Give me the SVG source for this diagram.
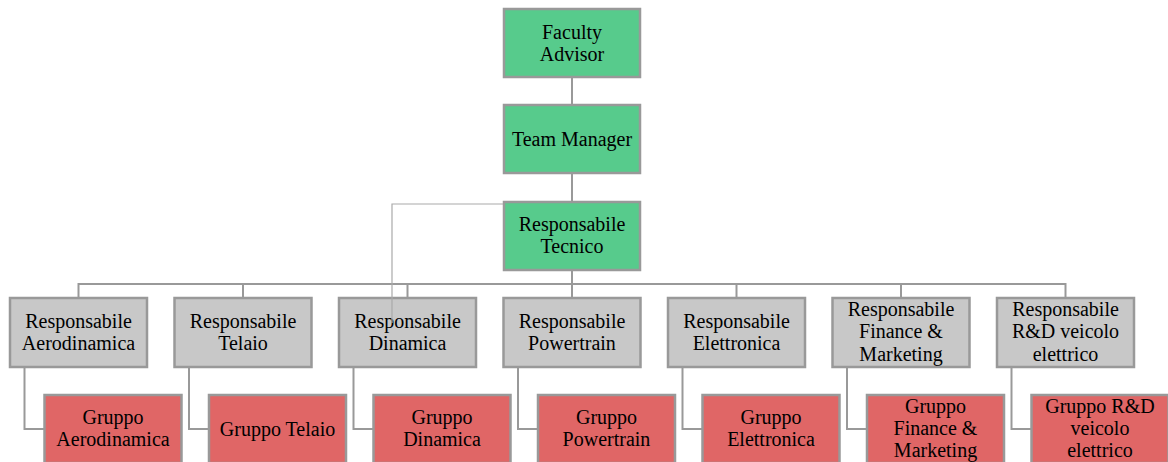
<svg xmlns="http://www.w3.org/2000/svg" width="1168" height="462" viewBox="0 0 1168 462">
<style>
.box{stroke:#999999;stroke-width:2.5}
.g{fill:#57CB8C}
.s{fill:#C8C8C8}
.r{fill:#E06666}
.lbl{font-family:"Liberation Serif","Times New Roman",serif;font-size:20px;fill:#000;text-anchor:middle}
.c{fill:none;stroke:#999999;stroke-width:2}
.t{fill:none;stroke:#AAAAAA;stroke-width:1.2}
</style>
<rect width="1168" height="462" fill="#FFFFFF"/>
<g id="nodes">
<g id="faculty-advisor"><rect class="box g" x="504" y="9" width="136" height="68"/><text class="lbl" x="572" y="38.9">Faculty<tspan x="572" dy="22.2">Advisor</tspan></text></g>
<g id="team-manager"><rect class="box g" x="504" y="105" width="136" height="68"/><text class="lbl" x="572" y="146">Team Manager</text></g>
<g id="resp-tecnico"><rect class="box g" x="504" y="202" width="136" height="68"/><text class="lbl" x="572" y="230.9">Responsabile<tspan x="572" dy="22.2">Tecnico</tspan></text></g>

<g id="resp-aero"><rect class="box s" x="10" y="298" width="137" height="69"/><text class="lbl" x="78.5" y="327.7">Responsabile<tspan x="78.5" dy="22.2">Aerodinamica</tspan></text></g>
<g id="resp-telaio"><rect class="box s" x="174.5" y="298" width="137" height="69"/><text class="lbl" x="243" y="327.7">Responsabile<tspan x="243" dy="22.2">Telaio</tspan></text></g>
<g id="resp-dinamica"><rect class="box s" x="339" y="298" width="137" height="69"/><text class="lbl" x="407.5" y="327.7">Responsabile<tspan x="407.5" dy="22.2">Dinamica</tspan></text></g>
<g id="resp-powertrain"><rect class="box s" x="503.5" y="298" width="137" height="69"/><text class="lbl" x="572" y="327.7">Responsabile<tspan x="572" dy="22.2">Powertrain</tspan></text></g>
<g id="resp-elettronica"><rect class="box s" x="668" y="298" width="137" height="69"/><text class="lbl" x="736.5" y="327.7">Responsabile<tspan x="736.5" dy="22.2">Elettronica</tspan></text></g>
<g id="resp-finance"><rect class="box s" x="832.5" y="298" width="137" height="69"/><text class="lbl" x="901" y="316.1">Responsabile<tspan x="901" dy="22.2">Finance &amp;</tspan><tspan x="901" dy="22.2">Marketing</tspan></text></g>
<g id="resp-rd"><rect class="box s" x="997" y="298" width="137" height="69"/><text class="lbl" x="1065.5" y="316.1">Responsabile<tspan x="1065.5" dy="22.2">R&amp;D veicolo</tspan><tspan x="1065.5" dy="22.2">elettrico</tspan></text></g>

<g id="gruppo-aero"><rect class="box r" x="44.5" y="395" width="137" height="68"/><text class="lbl" x="113" y="423.8">Gruppo<tspan x="113" dy="22.2">Aerodinamica</tspan></text></g>
<g id="gruppo-telaio"><rect class="box r" x="209" y="395" width="137" height="68"/><text class="lbl" x="277.5" y="436">Gruppo Telaio</text></g>
<g id="gruppo-dinamica"><rect class="box r" x="373.5" y="395" width="137" height="68"/><text class="lbl" x="442" y="423.8">Gruppo<tspan x="442" dy="22.2">Dinamica</tspan></text></g>
<g id="gruppo-powertrain"><rect class="box r" x="538" y="395" width="137" height="68"/><text class="lbl" x="606.5" y="423.8">Gruppo<tspan x="606.5" dy="22.2">Powertrain</tspan></text></g>
<g id="gruppo-elettronica"><rect class="box r" x="702.5" y="395" width="137" height="68"/><text class="lbl" x="771" y="423.8">Gruppo<tspan x="771" dy="22.2">Elettronica</tspan></text></g>
<g id="gruppo-finance"><rect class="box r" x="867" y="395" width="137" height="68"/><text class="lbl" x="935.5" y="412.8">Gruppo<tspan x="935.5" dy="22.2">Finance &amp;</tspan><tspan x="935.5" dy="22.2">Marketing</tspan></text></g>
<g id="gruppo-rd"><rect class="box r" x="1031.5" y="395" width="137" height="68"/><text class="lbl" x="1100" y="412.8">Gruppo R&amp;D<tspan x="1100" dy="22.2">veicolo</tspan><tspan x="1100" dy="22.2">elettrico</tspan></text></g>
</g>
<g id="connectors">
<path class="c" d="M572 77V105M572 173V202M572 270V284"/>
<path class="c" d="M78.5 298V284H1065.5V298M243 284V298M407.5 284V298M572 284V298M736.5 284V298M901 284V298"/>
<path class="c" d="M24.5 367V429H44.5M189 367V429H209M353.5 367V429H373.5M518 367V429H538M682.5 367V429H702.5M847 367V429H867M1011.5 367V429H1031.5"/>
<path class="t" d="M503 204H392V323"/>
</g>
</svg>
